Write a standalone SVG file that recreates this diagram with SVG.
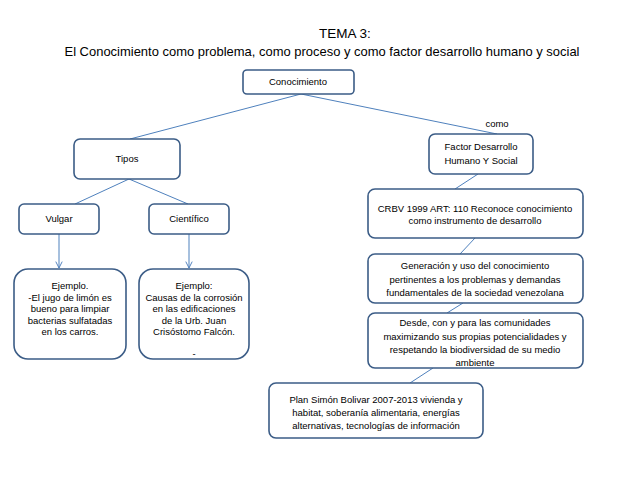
<svg xmlns="http://www.w3.org/2000/svg" width="638" height="479" viewBox="0 0 638 479">
<style>
text{font-family:"Liberation Sans",Arial,sans-serif;fill:#000;text-anchor:middle}
.t{font-size:13.5px}
.s{font-size:9.5px}
.b{fill:#fff;stroke:#3B5C86;stroke-width:1.6}
.c{stroke:#4F81BD;stroke-width:1;fill:none}
</style>
<defs>
<marker id="ah" viewBox="0 0 10 10" refX="9" refY="5" markerWidth="8" markerHeight="8" orient="auto" markerUnits="userSpaceOnUse">
<path d="M1,1 L9,5 L1,9" fill="none" stroke="#4F81BD" stroke-width="1.2"/>
</marker>
</defs>
<rect width="638" height="479" fill="#fff"/>
<g id="title">
<text class="t" x="345" y="38">TEMA 3:</text>
<text class="t" x="322" y="56" textLength="515" lengthAdjust="spacingAndGlyphs">El Conocimiento como problema, como proceso y como factor desarrollo humano y social</text>
</g>
<g id="connectors">
<line class="c" x1="301" y1="94" x2="130" y2="139"/>
<line class="c" x1="301" y1="94" x2="497" y2="134"/>
<line class="c" x1="129" y1="179" x2="75" y2="204"/>
<line class="c" x1="129" y1="179" x2="188" y2="204"/>
<line class="c" x1="59" y1="234" x2="59" y2="268" marker-end="url(#ah)"/>
<line class="c" x1="189" y1="234" x2="189" y2="268" marker-end="url(#ah)"/>
<line class="c" x1="478" y1="174" x2="455" y2="189"/>
<line class="c" x1="475" y1="238" x2="460" y2="254"/>
<line class="c" x1="463" y1="303" x2="447" y2="313"/>
<line class="c" x1="433" y1="368" x2="410" y2="383"/>
<text class="s" x="497" y="127">como</text>
</g>
<g id="conocimiento">
<rect class="b" x="243" y="70" width="111" height="24" rx="4"/>
<text class="s" x="298" y="85">Conocimiento</text>
</g>
<g id="tipos">
<rect class="b" x="74" y="139" width="106" height="40" rx="6"/>
<text class="s" x="127" y="162">Tipos</text>
</g>
<g id="vulgar">
<rect class="b" x="19" y="204" width="80" height="30" rx="5"/>
<text class="s" x="59" y="222">Vulgar</text>
</g>
<g id="cientifico">
<rect class="b" x="149" y="204" width="80" height="30" rx="5"/>
<text class="s" x="189" y="222">Científico</text>
</g>
<g id="ejemplo-vulgar">
<rect class="b" x="14" y="269" width="112" height="90" rx="14"/>
<text class="s" x="70" y="289">Ejemplo.</text>
<text class="s" x="70" y="300.5">-El jugo de limón es</text>
<text class="s" x="70" y="312">bueno para limpiar</text>
<text class="s" x="70" y="323.5">bacterias sulfatadas</text>
<text class="s" x="70" y="335">en los carros.</text>
</g>
<g id="ejemplo-cientifico">
<rect class="b" x="139" y="269" width="110" height="90" rx="14"/>
<text class="s" x="194" y="289">Ejemplo:</text>
<text class="s" x="194" y="300.5">Causas de la corrosión</text>
<text class="s" x="194" y="312">en las edificaciones</text>
<text class="s" x="194" y="323.5">de la Urb. Juan</text>
<text class="s" x="194" y="335">Crisóstomo Falcón.</text>
<text class="s" x="194" y="357">-</text>
</g>
<g id="factor">
<rect class="b" x="429" y="134" width="104" height="40" rx="6"/>
<text class="s" x="481" y="150">Factor Desarrollo</text>
<text class="s" x="481" y="164">Humano Y Social</text>
</g>
<g id="crbv">
<rect class="b" x="368" y="189" width="215" height="49" rx="7"/>
<text class="s" x="475" y="212">CRBV 1999  ART: 110 Reconoce conocimiento</text>
<text class="s" x="475" y="224">como instrumento de desarrollo</text>
</g>
<g id="generacion">
<rect class="b" x="368" y="254" width="215" height="49" rx="7"/>
<text class="s" x="475" y="269">Generación y uso del conocimiento</text>
<text class="s" x="475" y="282.5">pertinentes a los problemas y demandas</text>
<text class="s" x="475" y="296">fundamentales de la sociedad venezolana</text>
</g>
<g id="desde">
<rect class="b" x="368" y="313" width="215" height="55" rx="7"/>
<text class="s" x="475" y="326">Desde, con y para las comunidades</text>
<text class="s" x="475" y="339.5">maximizando sus propias potencialidades y</text>
<text class="s" x="475" y="353">respetando la biodiversidad de su medio</text>
<text class="s" x="475" y="366">ambiente</text>
</g>
<g id="plan">
<rect class="b" x="269" y="383" width="214" height="55" rx="7"/>
<text class="s" x="376" y="403">Plan Simón Bolivar 2007-2013 vivienda y</text>
<text class="s" x="376" y="416">habitat, soberanía alimentaria, energías</text>
<text class="s" x="376" y="429">alternativas, tecnologías de información</text>
</g>
</svg>
